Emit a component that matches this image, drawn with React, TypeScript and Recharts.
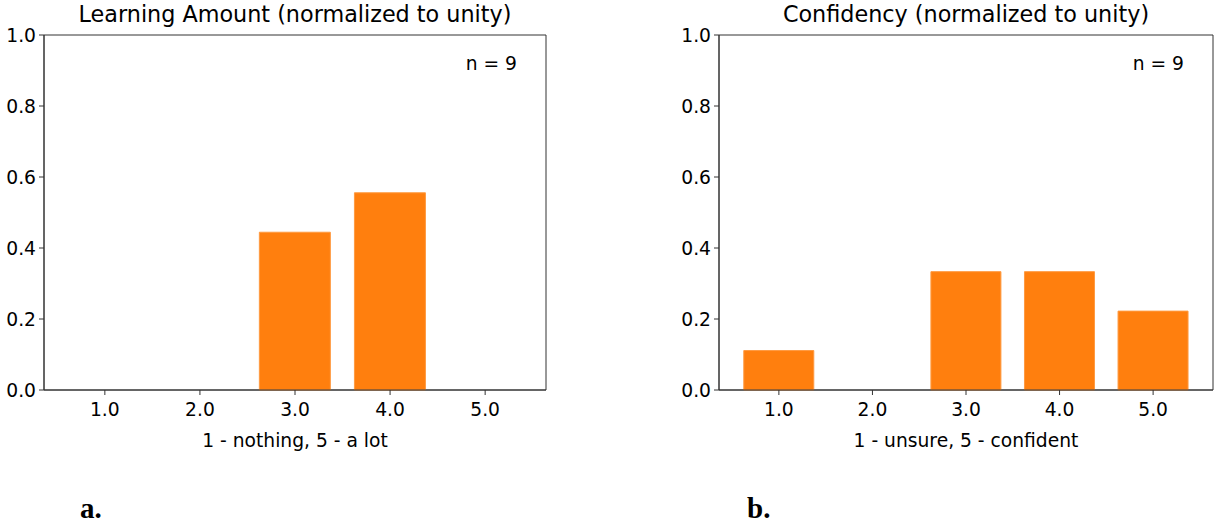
import { BarChart, Bar, XAxis, YAxis, ReferenceArea } from 'recharts'

const ratings = [1, 2, 3, 4, 5]
const learningShare = [0, 0, 4 / 9, 5 / 9, 0]
const confidencyShare = [1 / 9, 0, 3 / 9, 3 / 9, 2 / 9]
const yTicks = [0, 0.2, 0.4, 0.6, 0.8, 1.0]
const sampleSize = 9

const font = '"DejaVu Sans", sans-serif'
const axisColor = '#333'
const barColor = '#ff7f0e'
const xDomain: [number, number] = [0.36, 5.64]
const tickFont = 18.7

const learningData = ratings.map((r, i) => ({ rating: r, share: learningShare[i] }))
const confidencyData = ratings.map((r, i) => ({ rating: r, share: confidencyShare[i] }))

function XTick(props: any) {
  const { x, y, payload } = props
  return (
    <text x={x} y={y} dy={17} textAnchor="middle" fontSize={tickFont} fontFamily={font} fill="#000">
      {Number(payload.value).toFixed(1)}
    </text>
  )
}

function YTick(props: any) {
  const { x, y, payload } = props
  return (
    <text x={x + 1} y={y} dy={6.5} textAnchor="end" fontSize={tickFont} fontFamily={font} fill="#000">
      {Number(payload.value).toFixed(1)}
    </text>
  )
}

interface PanelProps {
  data: Array<{ rating: number; share: number }>
  title: string
  xLabel: string
  tag: string
  left: number
  width: number
  yAxisWidth: number
  marginRight: number
  tagLeft: number
}

function Panel({ data, title, xLabel, tag, left, width, yAxisWidth, marginRight, tagLeft }: PanelProps) {
  const plotLeft = yAxisWidth
  const plotRight = width - marginRight
  return (
    <div style={{ position: 'absolute', left, top: 0, width, height: 525 }}>
      <div
        style={{
          position: 'absolute',
          left: plotLeft - 10,
          width: plotRight - plotLeft + 20,
          top: 1,
          textAlign: 'center',
          fontFamily: font,
          fontSize: 22.3,
          color: '#000',
          whiteSpace: 'nowrap',
        }}
      >
        {title}
      </div>
      <BarChart
        width={width}
        height={525}
        data={data}
        margin={{ top: 35, right: marginRight, bottom: 75, left: 0 }}
        barCategoryGap="12.5%"
      >
        <XAxis
          dataKey="rating"
          type="number"
          domain={xDomain}
          ticks={ratings}
          allowDataOverflow
          height={60}
          stroke={axisColor}
          tickSize={5}
          tickMargin={4}
          tick={<XTick />}
          label={{ value: xLabel, position: 'insideBottom', offset: 3, fontSize: tickFont, fontFamily: font, fill: '#000' }}
        />
        <YAxis
          type="number"
          domain={[0, 1]}
          ticks={yTicks}
          width={yAxisWidth}
          stroke={axisColor}
          tickSize={5}
          tickMargin={4}
          tick={<YTick />}
        />
        <Bar dataKey="share" fill={barColor} stroke="#ff9a40" strokeWidth={1} isAnimationActive={false} />
        <ReferenceArea
          x1={xDomain[0]}
          x2={xDomain[1]}
          y1={0}
          y2={1}
          fill="none"
          fillOpacity={0}
          stroke={axisColor}
          strokeWidth={1}
          ifOverflow="visible"
        />
      </BarChart>
      <div
        style={{
          position: 'absolute',
          right: marginRight + 29,
          top: 53,
          fontFamily: font,
          fontSize: tickFont,
          color: '#000',
        }}
      >
        n = {sampleSize}
      </div>
      <div
        style={{
          position: 'absolute',
          left: tagLeft,
          top: 492,
          fontFamily: '"Liberation Serif", serif',
          fontWeight: 'bold',
          fontSize: 29,
          color: '#000',
        }}
      >
        {tag}
      </div>
    </div>
  )
}

export default function App() {
  return (
    <div style={{ position: 'absolute', left: 0, top: 0, width: 1226, height: 525, background: '#fff' }}>
      <Panel
        data={learningData}
        title="Learning Amount (normalized to unity)"
        xLabel="1 - nothing, 5 - a lot"
        tag="a."
        left={0}
        width={560}
        yAxisWidth={44}
        marginRight={14}
        tagLeft={80}
      />
      <Panel
        data={confidencyData}
        title="Confidency (normalized to unity)"
        xLabel="1 - unsure, 5 - confident"
        tag="b."
        left={670}
        width={556}
        yAxisWidth={49}
        marginRight={13}
        tagLeft={77}
      />
    </div>
  )
}
